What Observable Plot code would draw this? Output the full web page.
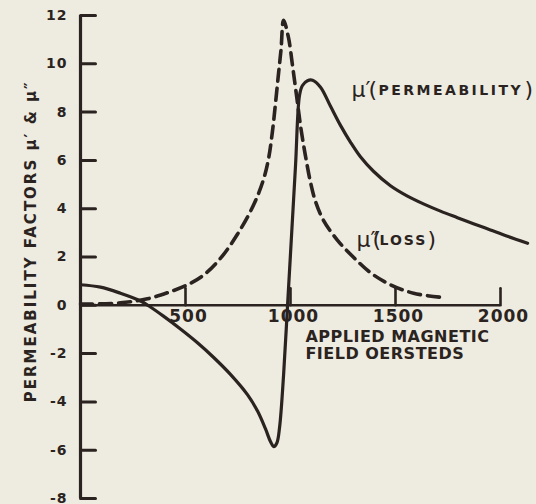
<!DOCTYPE html>
<html>
<head>
<meta charset="utf-8">
<script src="https://cdn.jsdelivr.net/npm/d3@7"></script>
<script src="https://cdn.jsdelivr.net/npm/@observablehq/plot@0.6"></script>
<style>
  html, body { margin: 0; padding: 0; background: #eeebe1; }
  #chart svg { display: block; }
</style>
</head>
<body>
<div id="chart"></div>
<script>
// Applied field (oersteds) and permeability factors
const permField = [0, 95, 190, 286, 324, 395, 476, 557, 633, 714, 795, 843, 881, 905, 920, 935, 948, 967, 986, 1005, 1024, 1043, 1057, 1081, 1105, 1143, 1190, 1238, 1286, 1333, 1395, 1476, 1557, 1633, 1714, 1795, 1871, 1952, 2033, 2129];
const permValue = [0.85, 0.75, 0.50, 0.18, -0.02, -0.45, -0.98, -1.55, -2.15, -2.86, -3.70, -4.38, -5.12, -5.65, -5.85, -5.70, -5.05, -2.89, 0.0, 2.90, 5.80, 8.70, 9.10, 9.30, 9.32, 9.03, 8.25, 7.45, 6.75, 6.15, 5.55, 4.95, 4.52, 4.20, 3.90, 3.63, 3.38, 3.12, 2.86, 2.57];

const lossField = [0, 190, 319, 414, 510, 586, 667, 748, 824, 871, 895, 914, 929, 943, 955, 967, 990, 1010, 1030, 1050, 1071, 1095, 1119, 1157, 1224, 1300, 1381, 1476, 1586, 1729];
const lossValue = [0.05, 0.10, 0.27, 0.52, 0.85, 1.25, 1.95, 2.95, 4.15, 5.20, 6.05, 7.20, 8.40, 9.60, 10.60, 11.8, 11.1, 9.9, 8.6, 7.3, 6.2, 5.1, 4.3, 3.52, 2.69, 1.99, 1.35, 0.85, 0.50, 0.32];

const xTicks = [500, 1000, 1500, 2000];
const xTickLabels = ["500", "1000", "1500", "2000"];
const yTicks = [-8, -6, -4, -2, 0, 2, 4, 6, 8, 10, 12];
const yTickLabels = ["-8", "-6", "-4", "-2", "0", "2", "4", "6", "8", "10", "12"];

const xTitle = "APPLIED MAGNETIC\nFIELD OERSTEDS";
const yTitle = "PERMEABILITY FACTORS \u03bc\u2032 & \u03bc\u2033";
const permSymbol = "\u03bc\u2032";
const permWord = "PERMEABILITY";
const lossSymbol = "\u03bc\u2033";
const lossWord = "LOSS";

const perm = permField.map((x, i) => ({x, y: permValue[i]}));
const loss = lossField.map((x, i) => ({x, y: lossValue[i]}));

const ink = "#2a2320";
const font = "DejaVu Sans, sans-serif";
const tickShape = {draw(ctx, l) { ctx.moveTo(0, 0); ctx.lineTo(0, -l); }};

const chart = Plot.plot({
  width: 536,
  height: 504,
  marginLeft: 80,
  marginRight: 36,
  marginTop: 15,
  marginBottom: 6,
  style: {background: "transparent", color: ink, fontFamily: font},
  x: {domain: [0, 2000], axis: null},
  y: {domain: [-8, 12], axis: null},
  marks: [
    // axis lines
    Plot.ruleX([0], {y1: -8, y2: 12, stroke: ink, strokeWidth: 3.2}),
    Plot.ruleY([0], {x1: 0, x2: 2000, stroke: ink, strokeWidth: 2.4}),
    // y ticks pointing right
    Plot.vector(yTicks, {x: 0, y: d => d, length: 15, rotate: 90, anchor: "start", shape: tickShape, stroke: ink, strokeWidth: 3}),
    // x ticks pointing up
    Plot.vector(xTicks, {x: d => d, y: 0, length: 17, rotate: 0, anchor: "start", shape: tickShape, stroke: ink, strokeWidth: 2.6}),
    // tick labels
    Plot.text(yTicks, {x: 0, y: d => d, text: (d, i) => yTickLabels[i], textAnchor: "end", dx: -13, fontSize: 14, fontWeight: "bold", fill: ink}),
    Plot.text(xTicks, {x: d => d, y: 0, text: (d, i) => xTickLabels[i], dy: 11, dx: 3, fontSize: 17, fill: ink, fontWeight: "bold"}),
    // curves
    Plot.line(loss, {x: "x", y: "y", curve: "catmull-rom", stroke: ink, strokeWidth: 3.6, strokeDasharray: "12,7"}),
    Plot.line(perm, {x: "x", y: "y", curve: "catmull-rom", stroke: ink, strokeWidth: 3.2}),
    // axis titles
    Plot.text([xTitle], {x: 1071, y: -1.04, text: d => d, textAnchor: "start", lineAnchor: "top", lineHeight: 1.05, fontSize: 16, fontWeight: "bold", fill: ink}),
    Plot.text([yTitle], {y: 2.65, frameAnchor: "left", dx: -49, text: d => d, textAnchor: "middle", rotate: -90, fontSize: 15, fontWeight: "bold", fill: ink}),
    // series labels
    Plot.text([permSymbol], {x: 1290, y: 8.9, text: d => d, textAnchor: "start", fontSize: 22, fill: ink}),
    Plot.text(["("], {x: 1371, y: 8.9, text: d => d, textAnchor: "start", fontSize: 22, fill: ink}),
    Plot.text([permWord], {x: 1419, y: 8.9, text: d => d, textAnchor: "start", fontSize: 14, fontWeight: "bold", fill: ink}),
    Plot.text([")"], {x: 2114, y: 8.9, text: d => d, textAnchor: "start", fontSize: 22, fill: ink}),
    Plot.text([lossSymbol], {x: 1314, y: 2.69, text: d => d, textAnchor: "start", fontSize: 22, fill: ink}),
    Plot.text(["("], {x: 1390, y: 2.69, text: d => d, textAnchor: "start", fontSize: 22, fill: ink}),
    Plot.text([lossWord], {x: 1424, y: 2.69, text: d => d, textAnchor: "start", fontSize: 14, fontWeight: "bold", fill: ink}),
    Plot.text([")"], {x: 1652, y: 2.69, text: d => d, textAnchor: "start", fontSize: 22, fill: ink})
  ]
});

// letter spacing of the hand lettering
const spacing = new Map([
  [permWord, "2.5px"], [lossWord, "2px"], [yTitle, "2px"],
  ["APPLIED MAGNETIC", "0.5px"], ["FIELD OERSTEDS", "0.5px"]
]);
d3.select(chart).selectAll("text, tspan").each(function() {
  const s = spacing.get(this.textContent);
  if (s) d3.select(this).attr("letter-spacing", s);
});
d3.select(chart).selectAll("text").filter(function() { return /^-?\d+$/.test(this.textContent); })
  .attr("letter-spacing", "1px");

document.getElementById("chart").appendChild(chart);
</script>
</body>
</html>
